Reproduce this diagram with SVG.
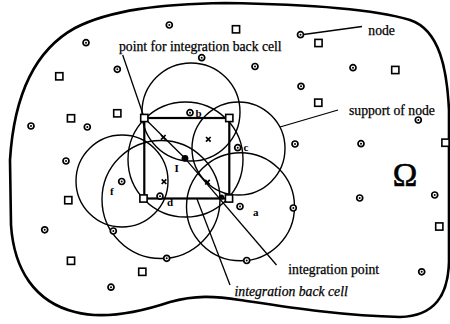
<svg xmlns="http://www.w3.org/2000/svg" width="450" height="324" viewBox="0 0 450 324">
<style>
.bd{fill:none;stroke:#000;stroke-width:2.6;stroke-linejoin:round}
.sup{fill:none;stroke:#000;stroke-width:1.4}
.ln{fill:none;stroke:#000;stroke-width:1.3}
.cell{fill:none;stroke:#000;stroke-width:2.2}
.nd{fill:#fff;stroke:#000;stroke-width:1.7}
.sq{fill:#fff;stroke:#000;stroke-width:1.6}
.dot{fill:#000}
.t{font-family:"Liberation Serif","Times New Roman",serif;font-size:13.7px;fill:#000;stroke:#000;stroke-width:0.25}
.lb{font-family:"Liberation Serif","Times New Roman",serif;font-size:11px;font-weight:bold;fill:#000}
.x{stroke:#000;stroke-width:1.7}
</style>
<defs>
<g id="n"><circle r="3" class="nd"/><circle r="1" class="dot"/></g>
<rect id="s" x="-3.6" y="-3.6" width="7.2" height="7.2" class="sq"/>
<g id="xm"><line x1="-2.3" y1="-2.3" x2="2.3" y2="2.3" class="x"/><line x1="-2.3" y1="2.3" x2="2.3" y2="-2.3" class="x"/></g>
</defs>
<rect width="450" height="324" fill="#fff"/>
<g id="domain">
<path class="bd" d="M10,160 C14,95 35,50 75,28 C110,10 160,4 225,3 C300,4 370,8 410,20 C440,30 447,70 449,110 L449,262 C448,295 435,316 400,317 C340,316 280,306 240,300 C215,296 195,295 170,302 C140,312 105,320 75,312 C35,302 14,270 11,225 Z"/>
<text class="t" x="405" y="185.5" text-anchor="middle" style="font-size:33px;stroke-width:0.6">Ω</text>
</g>
<g id="connectors">
<circle class="sup" cx="191" cy="112" r="49"/>
<circle class="sup" cx="238.5" cy="148.5" r="46.5"/>
<circle class="sup" cx="240.5" cy="206.7" r="54"/>
<circle class="sup" cx="122" cy="181" r="46"/>
<circle class="sup" cx="161" cy="199.5" r="59"/>
<circle class="sup" cx="185.5" cy="159.5" r="57.5"/>
<line class="ln" x1="122.7" y1="55" x2="144.3" y2="118"/>
<line class="ln" x1="303.5" y1="34.5" x2="362" y2="26.5"/>
<line class="ln" x1="280" y1="127" x2="338" y2="110"/>
<line class="ln" x1="144.3" y1="118" x2="185" y2="158.3"/>
<line class="ln" x1="185" y1="158.3" x2="276.5" y2="265"/>
<line class="ln" x1="197" y1="199" x2="230" y2="285"/>
</g>
<g id="back-cell">
<rect class="cell" x="144.3" y="118" width="85" height="80.5"/>
<use href="#s" x="144.3" y="118"/>
<use href="#s" x="229.3" y="118"/>
<use href="#s" x="143.5" y="198.5"/>
<use href="#s" x="229" y="198.5"/>
<circle cx="221.5" cy="197" r="2.6" class="dot"/>
<circle cx="185" cy="158.3" r="3.4" class="dot"/>
<use href="#xm" x="163.3" y="137.3"/>
<use href="#xm" x="208.3" y="139.3"/>
<use href="#xm" x="164" y="181.7"/>
<use href="#xm" x="207.5" y="182.2"/>
</g>
<g id="labelled-nodes">
<use href="#n" x="190" y="112.7"/>
<use href="#n" x="237.7" y="147.7"/>
<use href="#n" x="240" y="206.5"/>
<use href="#n" x="121.7" y="181.5"/>
<use href="#n" x="160" y="196.2"/>
<text class="lb" x="195.5" y="116.5">b</text>
<text class="lb" x="243.5" y="150.5">c</text>
<text class="lb" x="253" y="216">a</text>
<text class="lb" x="110" y="194.5">f</text>
<text class="lb" x="167" y="206">d</text>
<text class="lb" x="174.5" y="172">I</text>
</g>
<g id="nodes">
<use href="#n" x="169.3" y="25"/>
<use href="#n" x="86" y="42.7"/>
<use href="#n" x="201.7" y="57.7"/>
<use href="#n" x="117.3" y="69.3"/>
<use href="#n" x="255" y="66.5"/>
<use href="#n" x="300.5" y="34.7"/>
<use href="#n" x="353" y="67.7"/>
<use href="#n" x="301" y="86.3"/>
<use href="#n" x="31" y="126"/>
<use href="#n" x="87.3" y="127"/>
<use href="#n" x="418.3" y="120"/>
<use href="#n" x="295" y="144"/>
<use href="#n" x="361" y="143.7"/>
<use href="#n" x="66" y="161"/>
<use href="#n" x="293.3" y="208"/>
<use href="#n" x="359.7" y="198"/>
<use href="#n" x="434.7" y="195"/>
<use href="#n" x="44.7" y="229.8"/>
<use href="#n" x="113.3" y="231"/>
<use href="#n" x="166.7" y="258.3"/>
<use href="#n" x="246.7" y="260.5"/>
<use href="#n" x="111" y="287.2"/>
<use href="#n" x="421.7" y="271.8"/>
<use href="#s" x="236" y="29.3"/>
<use href="#s" x="318.5" y="43"/>
<use href="#s" x="395.3" y="70"/>
<use href="#s" x="59.3" y="76.3"/>
<use href="#s" x="318.3" y="102.7"/>
<use href="#s" x="117.3" y="113.3"/>
<use href="#s" x="71" y="118.3"/>
<use href="#s" x="445.5" y="142.7"/>
<use href="#s" x="68.3" y="200.2"/>
<use href="#s" x="439.3" y="226.5"/>
<use href="#s" x="71" y="260.8"/>
<use href="#s" x="142.3" y="271.8"/>
</g>
<g id="labels">
<text class="t" x="119" y="51">point for integration back cell</text>
<text class="t" x="368.3" y="35">node</text>
<text class="t" x="349" y="114.8">support of node</text>
<text class="t" x="288.3" y="273.5">integration point</text>
<text class="t" x="234.5" y="296" font-style="italic">integration back cell</text>
</g>
</svg>
